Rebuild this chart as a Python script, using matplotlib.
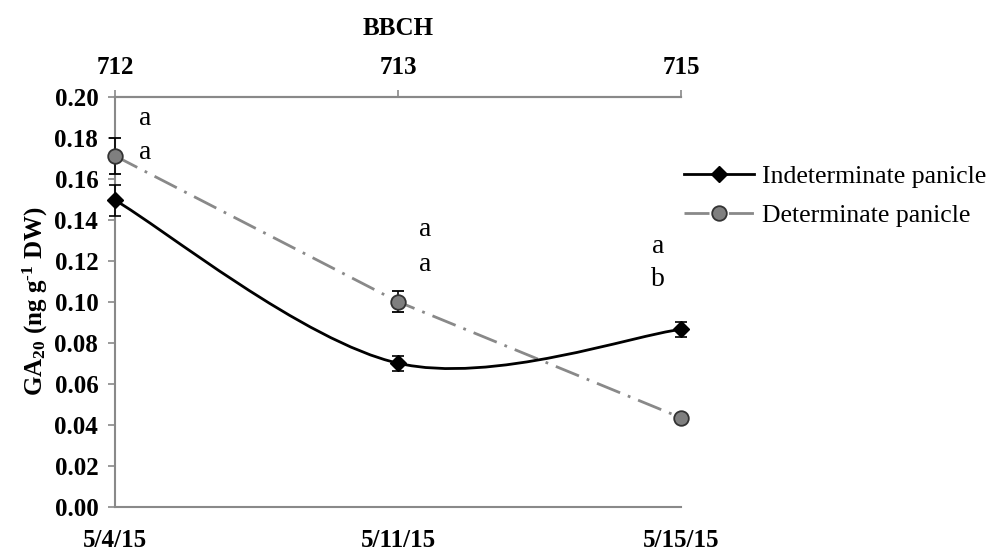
import matplotlib
matplotlib.use("Agg")
import matplotlib.pyplot as plt
from matplotlib.path import Path
from matplotlib.patches import PathPatch
from matplotlib.lines import Line2D

dates = ["5/4/15", "5/11/15", "5/15/15"]
bbch = ["712", "713", "715"]
indet = [0.1495, 0.0700, 0.0865]
indet_err = [0.0076, 0.0036, 0.0037]
det = [0.1711, 0.1000, 0.0434]
det_err = [0.0087, 0.0052, 0.0010]
letters_top = ["a", "a", "a"]
letters_bot = ["a", "a", "b"]

plt.rcParams['font.family'] = ['Liberation Serif', 'DejaVu Serif']
plt.rcParams['mathtext.fontset'] = 'custom'
plt.rcParams['mathtext.rm'] = 'Liberation Serif:bold'
plt.rcParams['mathtext.bf'] = 'Liberation Serif:bold'
plt.rcParams['mathtext.it'] = 'Liberation Serif:bold'
grey = "#898989"

fig = plt.figure(figsize=(9.96, 5.51), dpi=100)
ax = fig.add_axes([0.1155, 0.0804, 0.5682, 0.7441])
x = list(range(len(dates)))

# smoothed line (Excel-style bezier through the points)
pts = list(zip(x, indet))
verts = [pts[0]]
codes = [Path.MOVETO]
for i in range(len(pts) - 1):
    p0 = pts[i - 1] if i > 0 else pts[i]
    p1 = pts[i]
    p2 = pts[i + 1]
    p3 = pts[i + 2] if i + 2 < len(pts) else pts[i + 1]
    c1 = (p1[0] + (p2[0] - p0[0]) / 6, p1[1] + (p2[1] - p0[1]) / 6)
    c2 = (p2[0] - (p3[0] - p1[0]) / 6, p2[1] - (p3[1] - p1[1]) / 6)
    verts += [c1, c2, p2]
    codes += [Path.CURVE4] * 3
ax.add_patch(PathPatch(Path(verts, codes), fill=False, edgecolor="black",
                       lw=2.0, clip_on=False, zorder=3))

ax.plot(x, det, color=grey, lw=2.0, dashes=(9, 3, 1, 3), zorder=2, clip_on=False)

ax.errorbar(x, indet, yerr=indet_err, fmt="D", color="black", ms=8,
            ecolor="black", elinewidth=1.2, capsize=4, capthick=1.2,
            zorder=5, clip_on=False)
ax.errorbar(x, det, yerr=det_err, fmt="o", mfc="#7f7f7f", mec="#333333",
            mew=1.3, ms=10.5, ecolor="black", elinewidth=1.2, capsize=4,
            capthick=1.2, zorder=4, clip_on=False)

lx = [0.106, 1.095, 1.92]
ly_top = [0.1896, 0.135, 0.1267]
ly_bot = [0.173, 0.118, 0.1106]
for i in range(3):
    ax.text(lx[i], ly_top[i], letters_top[i], fontsize=20, ha="center", va="center")
    ax.text(lx[i], ly_bot[i], letters_bot[i], fontsize=20, ha="center", va="center")

ax.set_xlim(0, 2)
ax.set_ylim(0, 0.20)
ax.set_yticks([i * 0.02 for i in range(11)])
ax.set_yticklabels([f"{i * 0.02:.2f}" for i in range(11)], fontweight="bold", fontsize=18)
ax.set_xticks(x)
ax.set_xticklabels(dates, fontweight="bold", fontsize=18)
ax.tick_params(axis="x", length=0, pad=16)
ax.tick_params(axis="y", direction="out", length=5, width=1.2, color=grey, pad=7)

ax.spines["right"].set_visible(False)
for s in ["left", "bottom", "top"]:
    ax.spines[s].set_color(grey)
    ax.spines[s].set_linewidth(1.5)

top = ax.secondary_xaxis("top")
top.set_xticks(x)
top.set_xticklabels(bbch, fontweight="bold", fontsize=18)
top.tick_params(direction="out", length=5, width=1.2, color=grey, pad=8)
top.spines["top"].set_color(grey)
top.spines["top"].set_linewidth(1.5)
top.set_xlabel("BBCH", fontweight="bold", fontsize=18, labelpad=15)

ax.set_ylabel("GA$_{20}$ (ng g$^{\\text{-}1}$ DW)", fontweight="bold",
              fontsize=18, labelpad=3)

handles = [
    Line2D([], [], color="black", lw=2.0, marker="D", ms=8),
    Line2D([], [], color=grey, lw=2.0, dashes=(9, 3, 1, 3), marker="o",
           mfc="#7f7f7f", mec="#333333", mew=1.3, ms=10.5),
]
fig.legend(handles, ["Indeterminate panicle", "Determinate panicle"],
           loc="upper left", bbox_to_anchor=(0.664, 0.742), frameon=False,
           fontsize=18.5, handlelength=2.7, handletextpad=0.3, labelspacing=0.6)

fig.savefig("out.png", dpi=100)
